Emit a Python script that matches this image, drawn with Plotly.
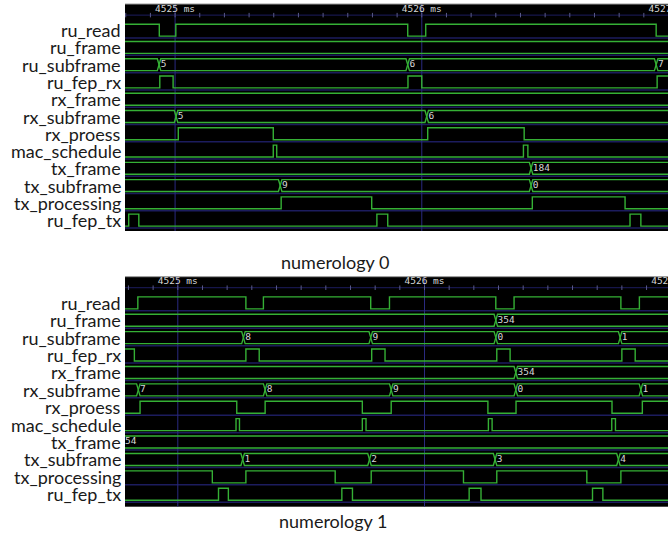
import numpy as np
import plotly.graph_objects as go

# ---------------- data ----------------
signal_names = ["ru_read", "ru_frame", "ru_subframe", "ru_fep_rx", "rx_frame", "rx_subframe",
                "rx_proess", "mac_schedule", "tx_frame", "tx_subframe", "tx_processing", "ru_fep_tx"]
panel_titles = ["numerology 0", "numerology 1"]
time_markers = [4525, 4526, 4527]  # ms

# numerology 0 : single-bit signals -> initial level, edge times (ms)
n0_ru_read_init, n0_ru_read_edges = 1, [4524.936, 4525.003, 4525.943, 4526.016, 4526.950]
n0_ru_fep_rx_init, n0_ru_fep_rx_edges = 0, [4524.938, 4524.992, 4525.944, 4526.000, 4526.954]
n0_rx_proess_init, n0_rx_proess_edges = 0, [4525.013, 4525.398, 4526.024, 4526.415]
n0_mac_schedule_init, n0_mac_schedule_edges = 0, [4525.398, 4525.412, 4526.412, 4526.430]
n0_tx_processing_init, n0_tx_processing_edges = 0, [4525.430, 4525.797, 4526.448, 4526.824]
n0_ru_fep_tx_init, n0_ru_fep_tx_edges = 0, [4524.812, 4524.853, 4525.818, 4525.862, 4526.844, 4526.888]
# numerology 0 : bus signals -> transition times (ms), new values
n0_ru_frame_times, n0_ru_frame_vals = [], []
n0_ru_subframe_times, n0_ru_subframe_vals = [4524.935, 4525.943, 4526.950], ["5", "6", "7"]
n0_rx_frame_times, n0_rx_frame_vals = [], []
n0_rx_subframe_times, n0_rx_subframe_vals = [4525.004, 4526.020], ["5", "6"]
n0_tx_frame_times, n0_tx_frame_vals = [4526.443], ["184"]
n0_tx_subframe_times, n0_tx_subframe_vals = [4525.426, 4526.443], ["9", "0"]

# numerology 1 : single-bit signals
n1_ru_read_init, n1_ru_read_edges = 0, [4524.838, 4525.276, 4525.347, 4525.782, 4525.858,
                                        4526.289, 4526.363, 4526.796, 4526.871]
n1_ru_fep_rx_init, n1_ru_fep_rx_edges = 1, [4524.824, 4525.276, 4525.330, 4525.786, 4525.840,
                                            4526.293, 4526.347, 4526.800, 4526.854]
n1_rx_proess_init, n1_rx_proess_edges = 0, [4524.847, 4525.239, 4525.354, 4525.748, 4525.865,
                                            4526.257, 4526.371, 4526.760, 4526.883]
n1_mac_schedule_init, n1_mac_schedule_edges = 0, [4525.236, 4525.250, 4525.748, 4525.763,
                                                  4526.259, 4526.274, 4526.759, 4526.774]
n1_tx_processing_init, n1_tx_processing_edges = 1, [4525.140, 4525.276, 4525.638, 4525.784,
                                                    4526.158, 4526.293, 4526.658, 4526.796]
n1_ru_fep_tx_init, n1_ru_fep_tx_edges = 0, [4525.165, 4525.205, 4525.665, 4525.708,
                                            4526.181, 4526.229, 4526.681, 4526.723]
# numerology 1 : bus signals
n1_ru_frame_times, n1_ru_frame_vals = [4526.289], ["354"]
n1_ru_subframe_times, n1_ru_subframe_vals = [4525.266, 4525.782, 4526.289, 4526.793], ["8", "9", "0", "1"]
n1_rx_frame_times, n1_rx_frame_vals = [4526.370], ["354"]
n1_rx_subframe_times, n1_rx_subframe_vals = [4524.840, 4525.354, 4525.865, 4526.370, 4526.877], ["7", "8", "9", "0", "1"]
n1_tx_frame_times, n1_tx_frame_vals, n1_tx_frame_initial = [], [], "54"
n1_tx_subframe_times, n1_tx_subframe_vals = [4525.263, 4525.777, 4526.286, 4526.786], ["1", "2", "3", "4"]

# visible time windows (ms)
n0_view = [4524.797, 4526.998]
n1_view = [4524.786, 4526.987]

# ---------------- styling ----------------
GREEN = "#35b035"
NAVY = "#1c1c5e"
TXT = "#d6d6d6"
AMP = 0.345          # half swing in row units
XD = 0.007           # half width of bus crossing (ms)
LBL_FONT = dict(family="Lato, 'Open Sans', sans-serif", size=18, color="#1a1a1a")
MONO = dict(family="DejaVu Sans Mono, monospace", size=9.5, color=TXT)

fig = go.Figure()


def bit_trace(row, init, edges, view, xa, ya):
    xs, lv = [view[0]], [init]
    level = init
    for e in edges:
        level = 1 - level
        xs.append(e)
        lv.append(level)
    xs.append(view[1])
    lv.append(level)
    ys = [row - AMP if v else row + AMP for v in lv]
    fig.add_trace(go.Scatter(x=xs, y=ys, mode="lines", line=dict(shape="hv", color=GREEN, width=1.4),
                             xaxis=xa, yaxis=ya, hoverinfo="skip", showlegend=False))


def bus_trace(row, times, vals, view, xa, ya, initial=None):
    lines = []
    for start_hi in (True, False):
        hi = start_hi
        px, py = [view[0]], [row - AMP if hi else row + AMP]
        for t in times:
            px += [t - XD, t + XD]
            py += [row - AMP if hi else row + AMP, row + AMP if hi else row - AMP]
            hi = not hi
        px.append(view[1])
        py.append(row - AMP if hi else row + AMP)
        lines.append((px, py))
    xs = lines[0][0] + [None] + lines[1][0]
    ys = lines[0][1] + [None] + lines[1][1]
    fig.add_trace(go.Scatter(x=xs, y=ys, mode="lines", line=dict(color=GREEN, width=1.4),
                             xaxis=xa, yaxis=ya, hoverinfo="skip", showlegend=False))
    lx = [t + XD for t in times]
    lt = list(vals)
    if initial is not None:
        lx = [view[0]] + lx
        lt = [initial] + lt
    if lx:
        fig.add_trace(go.Scatter(x=lx, y=[row] * len(lx), mode="text", text=lt,
                                 textposition="middle right", textfont=MONO,
                                 xaxis=xa, yaxis=ya, hoverinfo="skip", showlegend=False))


def decor(view, xa, ya, yrange):
    ytop, ybot = yrange[1], yrange[0]
    # row separators
    sx, sy = [], []
    for r in range(len(signal_names)):
        sx += [view[0], view[1], None]
        sy += [r + 0.46, r + 0.46, None]
    fig.add_trace(go.Scatter(x=sx, y=sy, mode="lines", line=dict(color=NAVY, width=1.5),
                             xaxis=xa, yaxis=ya, hoverinfo="skip", showlegend=False))
    # marker lines
    mx, my = [], []
    for m in time_markers:
        mx += [m, m, None]
        my += [ytop, ybot, None]
    fig.add_trace(go.Scatter(x=mx, y=my, mode="lines", line=dict(color="#2a2a80", width=1),
                             xaxis=xa, yaxis=ya, hoverinfo="skip", showlegend=False))
    # header ruler
    ticks = np.round(np.arange(4524.8, 4527.05, 0.1), 3)
    tx, ty = [], []
    for t in ticks:
        tx += [t, t, None]
        ty += [-1.0, -0.74, None]
    fig.add_trace(go.Scatter(x=[view[0], view[1]], y=[-0.87, -0.87], mode="lines",
                             line=dict(color=NAVY, width=1), xaxis=xa, yaxis=ya,
                             hoverinfo="skip", showlegend=False))
    fig.add_trace(go.Scatter(x=tx, y=ty, mode="lines", line=dict(color="#5a5a8a", width=1),
                             xaxis=xa, yaxis=ya, hoverinfo="skip", showlegend=False))
    fig.add_trace(go.Scatter(x=time_markers, y=[-1.2] * len(time_markers), mode="text",
                             text=[f"{m} ms" for m in time_markers], textposition="middle center",
                             textfont=MONO, xaxis=xa, yaxis=ya, hoverinfo="skip", showlegend=False))


panels = [
    dict(view=n0_view, xa="x", ya="y", yrange=[11.63, -1.514],
         bits={"ru_read": (n0_ru_read_init, n0_ru_read_edges),
               "ru_fep_rx": (n0_ru_fep_rx_init, n0_ru_fep_rx_edges),
               "rx_proess": (n0_rx_proess_init, n0_rx_proess_edges),
               "mac_schedule": (n0_mac_schedule_init, n0_mac_schedule_edges),
               "tx_processing": (n0_tx_processing_init, n0_tx_processing_edges),
               "ru_fep_tx": (n0_ru_fep_tx_init, n0_ru_fep_tx_edges)},
         buses={"ru_frame": (n0_ru_frame_times, n0_ru_frame_vals, None),
                "ru_subframe": (n0_ru_subframe_times, n0_ru_subframe_vals, None),
                "rx_frame": (n0_rx_frame_times, n0_rx_frame_vals, None),
                "rx_subframe": (n0_rx_subframe_times, n0_rx_subframe_vals, None),
                "tx_frame": (n0_tx_frame_times, n0_tx_frame_vals, None),
                "tx_subframe": (n0_tx_subframe_times, n0_tx_subframe_vals, None)}),
    dict(view=n1_view, xa="x2", ya="y2", yrange=[11.715, -1.503],
         bits={"ru_read": (n1_ru_read_init, n1_ru_read_edges),
               "ru_fep_rx": (n1_ru_fep_rx_init, n1_ru_fep_rx_edges),
               "rx_proess": (n1_rx_proess_init, n1_rx_proess_edges),
               "mac_schedule": (n1_mac_schedule_init, n1_mac_schedule_edges),
               "tx_processing": (n1_tx_processing_init, n1_tx_processing_edges),
               "ru_fep_tx": (n1_ru_fep_tx_init, n1_ru_fep_tx_edges)},
         buses={"ru_frame": (n1_ru_frame_times, n1_ru_frame_vals, None),
                "ru_subframe": (n1_ru_subframe_times, n1_ru_subframe_vals, None),
                "rx_frame": (n1_rx_frame_times, n1_rx_frame_vals, None),
                "rx_subframe": (n1_rx_subframe_times, n1_rx_subframe_vals, None),
                "tx_frame": (n1_tx_frame_times, n1_tx_frame_vals, n1_tx_frame_initial),
                "tx_subframe": (n1_tx_subframe_times, n1_tx_subframe_vals, None)}),
]

annotations = []
for p in panels:
    decor(p["view"], p["xa"], p["ya"], p["yrange"])
    for r, name in enumerate(signal_names):
        if name in p["bits"]:
            init, edges = p["bits"][name]
            bit_trace(r, init, edges, p["view"], p["xa"], p["ya"])
        else:
            times, vals, initial = p["buses"][name]
            bus_trace(r, times, vals, p["view"], p["xa"], p["ya"], initial)
        annotations.append(dict(x=123 / 668, xref="paper", y=r, yref=p["ya"], text=name,
                                showarrow=False, xanchor="right", yanchor="middle", font=LBL_FONT))

annotations.append(dict(x=335 / 668, y=1 - 262 / 539, xref="paper", yref="paper", text=panel_titles[0],
                        showarrow=False, font=LBL_FONT, xanchor="center", yanchor="middle"))
annotations.append(dict(x=333 / 668, y=1 - 521 / 539, xref="paper", yref="paper", text=panel_titles[1],
                        showarrow=False, font=LBL_FONT, xanchor="center", yanchor="middle"))

ax_common = dict(showgrid=False, zeroline=False, showticklabels=False, ticks="", showline=False, fixedrange=True)
fig.update_layout(
    width=668, height=539, margin=dict(l=0, r=0, t=0, b=0),
    paper_bgcolor="white", plot_bgcolor="black", showlegend=False,
    xaxis=dict(domain=[125 / 668, 1], range=n0_view, anchor="y", **ax_common),
    yaxis=dict(domain=[1 - 231 / 539, 1 - 4 / 539], range=panels[0]["yrange"], anchor="x", **ax_common),
    xaxis2=dict(domain=[125 / 668, 1], range=n1_view, anchor="y2", **ax_common),
    yaxis2=dict(domain=[1 - 506.7 / 539, 1 - 276.7 / 539], range=panels[1]["yrange"], anchor="x2", **ax_common),
    annotations=annotations,
    shapes=[dict(type="line", xref="paper", yref="paper", x0=125 / 668, x1=1, y0=1 - 4 / 539, y1=1 - 4 / 539,
                 line=dict(color="#9a9a9a", width=1)),
            dict(type="line", xref="paper", yref="paper", x0=125 / 668, x1=1, y0=1 - 276.7 / 539,
                 y1=1 - 276.7 / 539, line=dict(color="#9a9a9a", width=1))],
)

fig.write_html("out.html", config={"displayModeBar": False},
               post_script="document.body.style.margin='0';document.body.style.overflow='hidden';")
